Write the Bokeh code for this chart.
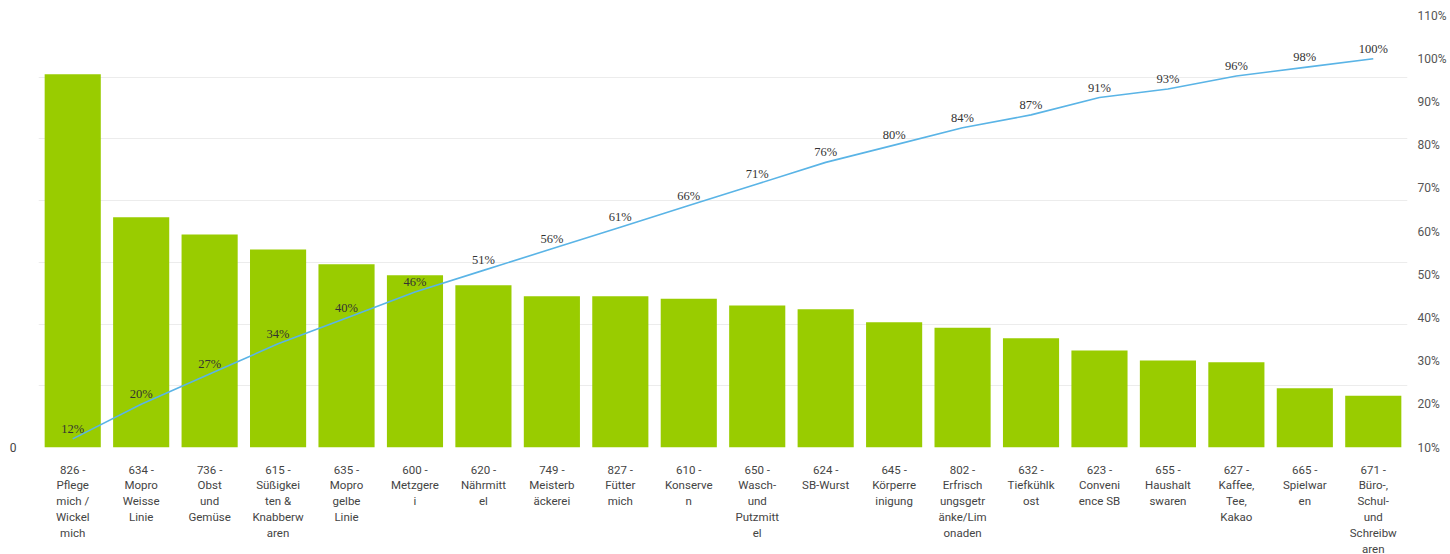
from bokeh.plotting import figure
from bokeh.models import Range1d, LinearAxis, FixedTicker, PrintfTickFormatter, ColumnDataSource, LabelSet
from bokeh.embed import file_html
from bokeh.resources import INLINE

categories = [
    "826 -\nPflege\nmich /\nWickel\nmich",
    "634 -\nMopro\nWeisse\nLinie",
    "736 -\nObst\nund\nGemüse",
    "615 -\nSüßigkei\nten &\nKnabberw\naren",
    "635 -\nMopro\ngelbe\nLinie",
    "600 -\nMetzgere\ni",
    "620 -\nNährmitt\nel",
    "749 -\nMeisterb\näckerei",
    "827 -\nFütter\nmich",
    "610 -\nKonserve\nn",
    "650 -\nWasch-\nund\nPutzmitt\nel",
    "624 -\nSB-Wurst",
    "645 -\nKörperre\ninigung",
    "802 -\nErfrisch\nungsgetr\nänke/Lim\nonaden",
    "632 -\nTiefkühlk\nost",
    "623 -\nConveni\nence SB",
    "655 -\nHaushalt\nswaren",
    "627 -\nKaffee,\nTee,\nKakao",
    "665 -\nSpielwar\nen",
    "671 -\nBüro-,\nSchul-\nund\nSchreibw\naren",
]
values = [6.05, 3.73, 3.45, 3.21, 2.97, 2.79, 2.63, 2.45, 2.45, 2.41,
          2.30, 2.24, 2.03, 1.94, 1.77, 1.57, 1.41, 1.38, 0.96, 0.84]
cumulative_pct = [12, 20, 27, 34, 40, 46, 51, 56, 61, 66,
                  71, 76, 80, 84, 87, 91, 93, 96, 98, 100]
left_ticks = [0, 1, 2, 3, 4, 5, 6, 7]
right_ticks = [10, 20, 30, 40, 50, 60, 70, 80, 90, 100, 110]

xs = list(range(len(categories)))
src = ColumnDataSource(dict(
    x=xs, v=values, c=cumulative_pct,
    lbl=[f"{c}%" for c in cumulative_pct],
))

p = figure(frame_width=1369, frame_height=432, output_backend="svg", toolbar_location=None,
           x_range=Range1d(-0.5, len(categories) - 0.5), y_range=Range1d(0, 7),
           min_border_left=38, min_border_right=43, min_border_top=15, min_border_bottom=107)
p.outline_line_color = None
p.background_fill_color = "white"

p.extra_y_ranges = {"pct": Range1d(10, 110)}

p.vbar(x="x", top="v", width=0.82, bottom=0, source=src, fill_color="#99CC00", line_color=None)
p.line(x="x", y="c", source=src, y_range_name="pct", line_color="#5AB4E6", line_width=1.6)

labels = LabelSet(x="x", y="c", text="lbl", source=src, y_range_name="pct",
                  text_align="center", text_baseline="bottom", y_offset=3,
                  text_font="Roboto", text_font_size="12.5px", text_color="#333333")
p.add_layout(labels)

# x axis
xa = p.xaxis[0]
xa.ticker = FixedTicker(ticks=xs)
xa.major_label_overrides = {i: c for i, c in enumerate(categories)}
xa.axis_line_color = None
xa.major_tick_line_color = None
xa.minor_tick_line_color = None
xa.major_label_standoff = 9
xa.major_label_text_font = "Roboto"
xa.major_label_text_font_size = "11.5px"
xa.major_label_text_color = "#444444"
xa.major_label_text_line_height = 1.13
p.xgrid.grid_line_color = None

# left axis
ya = p.yaxis[0]
ya.ticker = FixedTicker(ticks=left_ticks)
ya.major_label_overrides = {t: ("0" if t == 0 else "") for t in left_ticks}
ya.axis_line_color = None
ya.major_tick_line_color = None
ya.minor_tick_line_color = None
ya.major_label_standoff = 16
ya.major_label_text_font = "Roboto"
ya.major_label_text_font_size = "12px"
ya.major_label_text_color = "#444444"
p.ygrid.ticker = FixedTicker(ticks=left_ticks)
p.ygrid.grid_line_color = "#ececec"
p.ygrid.grid_line_width = 1

# right axis
ra = LinearAxis(y_range_name="pct", ticker=FixedTicker(ticks=right_ticks),
                formatter=PrintfTickFormatter(format="%d%%"))
ra.axis_line_color = None
ra.major_tick_line_color = None
ra.minor_tick_line_color = None
ra.major_label_standoff = 4
ra.major_label_text_font = "Roboto"
ra.major_label_text_font_size = "12px"
ra.major_label_text_color = "#555555"
p.add_layout(ra, "right")

open("out.html", "w").write(file_html(p, INLINE))
